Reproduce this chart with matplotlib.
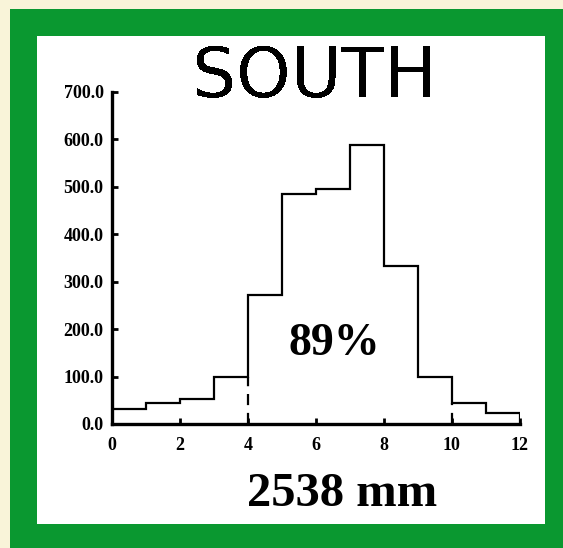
import matplotlib
matplotlib.use("Agg")
from matplotlib import pyplot as plt
from matplotlib.patches import Rectangle

# monthly rainfall (mm), month edges 0..12
months = list(range(13))
rain = [31, 44, 53, 100, 271, 485, 495, 588, 334, 100, 44, 24]
station = 'SOUTH'
total_label = '2538 mm'
wet_share = '89%'
wet_start, wet_end = 4, 10
yticks = [0, 100, 200, 300, 400, 500, 600, 700]
xticks = [0, 2, 4, 6, 8, 10, 12]

W, H = 563, 548
fig = plt.figure(figsize=(W / 100, H / 100), dpi=100)
fig.patch.set_facecolor('#f9f4d9')

# green frame with white panel
fig.patches.append(Rectangle((10 / W, 0), 1, 1 - 9 / H, transform=fig.transFigure,
                             facecolor='#0a9830', edgecolor='none', zorder=0))
fig.patches.append(Rectangle((37 / W, 1 - 524 / H), (545 - 37) / W, (524 - 36) / H,
                             transform=fig.transFigure, facecolor='white',
                             edgecolor='none', zorder=0.5))

ax = fig.add_axes([112 / W, 1 - 424 / H, (519.5 - 112) / W, (424 - 92) / H])
ax.set_facecolor('none')
ax.set_zorder(2)

ax.stairs(rain, months, baseline=0, color='black', linewidth=1.6)

# dashed edges marking the wet season
for m in (wet_start, wet_end):
    h = min(rain[m - 1], rain[m])
    ax.plot([m, m], [0, h], color='black', linewidth=1.6, linestyle=(0, (5, 3.5)))

ax.set_xlim(0, 12)
ax.set_ylim(0, 700)
ax.set_xticks(xticks)
ax.set_yticks(yticks)
ax.set_yticklabels(['%.1f' % v for v in yticks])

for side in ('top', 'right'):
    ax.spines[side].set_visible(False)
for side in ('left', 'bottom'):
    ax.spines[side].set_linewidth(2.4)
ax.tick_params(direction='in', length=4, width=2, pad=6)
for lab in ax.get_xticklabels() + ax.get_yticklabels():
    lab.set_fontfamily('Liberation Serif')
    lab.set_fontweight('bold')
    lab.set_fontsize(13)
ax.tick_params(axis='x', pad=9)

ax.text(6.55, 168, wet_share, ha='center', va='center', fontsize=33,
        fontweight='bold', family='Liberation Serif')

fig.text(315 / W, 1 - 77 / H, station, ha='center', va='center', fontsize=50,
         family='DejaVu Sans', antialiased=False, zorder=3)
fig.text(342 / W, 1 - 494 / H, total_label, ha='center', va='center', fontsize=35,
         fontweight='bold', family='Liberation Serif', zorder=3)

fig.savefig('out.png', dpi=100, facecolor=fig.get_facecolor())
